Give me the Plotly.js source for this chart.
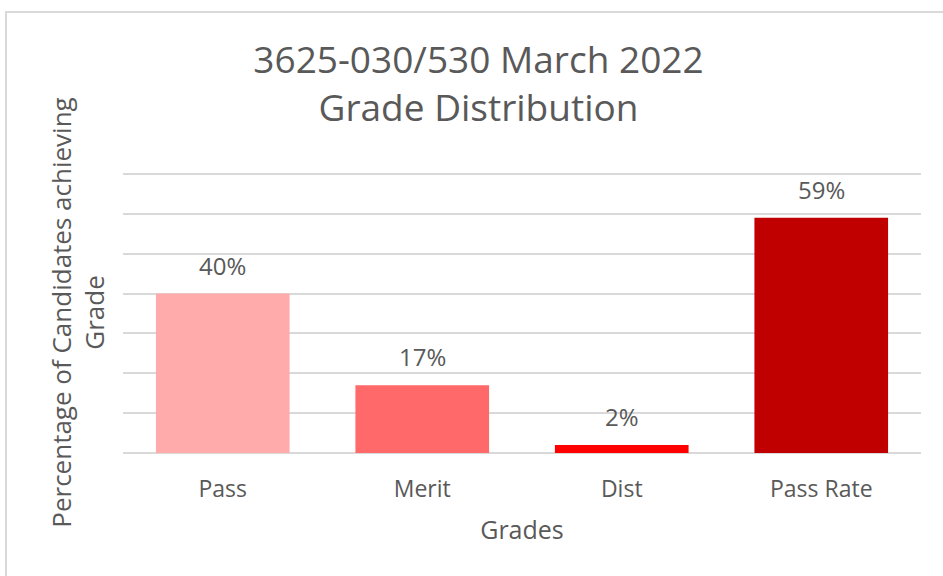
<!DOCTYPE html>
<html>
<head>
<meta charset="utf-8">
<script src="https://cdn.plot.ly/plotly-3.0.1.min.js"></script>
<style>html,body{margin:0;padding:0;background:#fff;}#chart{width:943px;height:576px;}</style>
</head>
<body>
<div id="chart"></div>
<script>
const categories = ["Pass", "Merit", "Dist", "Pass Rate"];
const values = [40, 17, 2, 59];
const valueLabels = ["40%", "17%", "2%", "59%"];
const barColors = ["#FFABAB", "#FF6969", "#FF0000", "#C00000"];
const yTicks = [0, 10, 20, 30, 40, 50, 60, 70];

const font = "Open Sans, Noto Sans, DejaVu Sans, sans-serif";
const grey = "#595959";

const trace = {
  type: "bar",
  x: categories,
  y: values,
  marker: {color: barColors, line: {width: 0}},
  width: 0.67,
  hoverinfo: "x+y"
};

const labelAnnotations = categories.map((c, i) => ({
  x: c, y: values[i], xref: "x", yref: "y",
  text: valueLabels[i], showarrow: false,
  xanchor: "center", yanchor: "bottom", yshift: 10,
  font: {family: font, size: 24, color: grey}
}));

const layout = {
  width: 943,
  height: 576,
  margin: {l: 123, r: 22, t: 172, b: 123, pad: 0},
  paper_bgcolor: "#ffffff",
  plot_bgcolor: "#ffffff",
  showlegend: false,
  title: {
    text: "3625-030/530 March 2022<br>Grade Distribution",
    font: {family: font, size: 37, color: grey},
    x: 0.5074, xanchor: "center", xref: "container",
    y: 0.873, yanchor: "top", yref: "container"
  },
  xaxis: {
    type: "category",
    showgrid: false,
    zeroline: false,
    showline: false,
    ticks: "",
    ticklabelstandoff: 20,
    tickfont: {family: font, size: 23, color: grey},
    automargin: false,
    title: {text: "Grades", font: {family: font, size: 25, color: grey}, standoff: 18}
  },
  yaxis: {
    range: [0, 70.5],
    tickvals: yTicks,
    showticklabels: false,
    ticks: "",
    showgrid: true,
    gridcolor: "#d9d9d9",
    gridwidth: 2,
    zeroline: true,
    zerolinecolor: "#d9d9d9",
    zerolinewidth: 2,
    showline: false,
    automargin: false,
    title: {text: "Percentage of Candidates achieving<br>Grade", font: {family: font, size: 26, color: grey}, standoff: 9}
  },
  annotations: labelAnnotations,
  shapes: [{
    type: "rect", xref: "paper", yref: "paper",
    x0: -0.1466, x1: 1.2, y0: -1, y1: 1.5694,
    line: {color: "#d9d9d9", width: 2}, fillcolor: "rgba(0,0,0,0)", layer: "below"
  }]
};

Plotly.newPlot("chart", [trace], layout, {displayModeBar: false, staticPlot: true});
</script>
</body>
</html>
